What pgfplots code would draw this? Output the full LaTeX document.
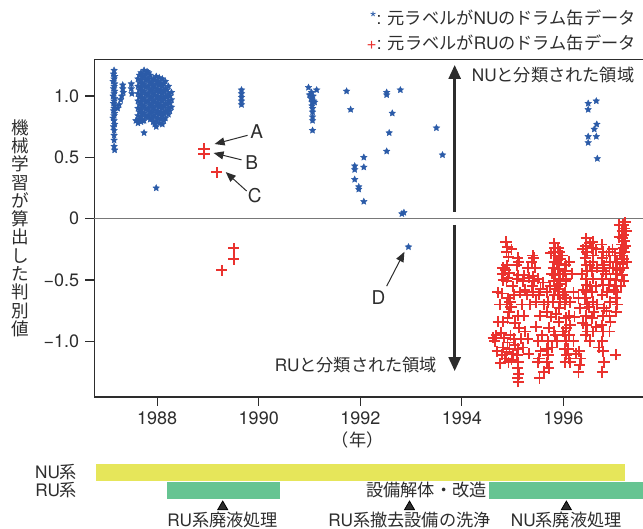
\documentclass[border=0pt]{standalone}
\usepackage{fontspec}
\setmainfont{TeX Gyre Heros}
\newfontfamily\jp{Noto Sans CJK JP}
\usepackage{pgfplots}
\pgfplotsset{compat=1.18}
\usetikzlibrary{arrows.meta}

\definecolor{nublue}{RGB}{43,91,168}
\definecolor{rured}{RGB}{234,50,46}
\definecolor{nuyellow}{RGB}{230,230,90}
\definecolor{rugreen}{RGB}{102,196,146}
\definecolor{txt}{RGB}{45,45,45}
\definecolor{zeroline}{RGB}{120,120,120}

% filled five-pointed star
\pgfdeclareplotmark{fstar}{%
  \pgfsetfillcolor{nublue}\pgfsetstrokecolor{nublue}\pgfsetlinewidth{0.2pt}%
  \pgfpathmoveto{\pgfpointpolar{90}{\pgfplotmarksize}}%
  \pgfpathlineto{\pgfpointpolar{126}{0.48\pgfplotmarksize}}%
  \pgfpathlineto{\pgfpointpolar{162}{\pgfplotmarksize}}%
  \pgfpathlineto{\pgfpointpolar{198}{0.48\pgfplotmarksize}}%
  \pgfpathlineto{\pgfpointpolar{234}{\pgfplotmarksize}}%
  \pgfpathlineto{\pgfpointpolar{270}{0.48\pgfplotmarksize}}%
  \pgfpathlineto{\pgfpointpolar{306}{\pgfplotmarksize}}%
  \pgfpathlineto{\pgfpointpolar{342}{0.48\pgfplotmarksize}}%
  \pgfpathlineto{\pgfpointpolar{18}{\pgfplotmarksize}}%
  \pgfpathlineto{\pgfpointpolar{54}{0.48\pgfplotmarksize}}%
  \pgfpathclose
  \pgfusepathqfillstroke}

% red plus with its colour set inside the mark
\pgfdeclareplotmark{rplus}{%
  \pgfsetstrokecolor{rured}\pgfsetlinewidth{0.95pt}%
  \pgfpathmoveto{\pgfqpoint{-\pgfplotmarksize}{0pt}}%
  \pgfpathlineto{\pgfqpoint{\pgfplotmarksize}{0pt}}%
  \pgfpathmoveto{\pgfqpoint{0pt}{-\pgfplotmarksize}}%
  \pgfpathlineto{\pgfqpoint{0pt}{\pgfplotmarksize}}%
  \pgfusepathqstroke}

\begin{document}
\fontsize{8.6}{10}\selectfont
\begin{tikzpicture}[font=\fontsize{8.6}{10}\selectfont, text=txt]
\begin{axis}[
    name=ax,
    scale only axis,
    width=274.35pt, height=168.85pt,
    xmin=1986.76, xmax=1997.57,
    ymin=-1.454, ymax=1.30,
    axis x line=box, axis y line=left,
    axis line style={-, draw=txt, line width=0.6pt},
    tick pos=left, tick align=outside,
    major tick length=4.5pt,
    tick style={draw=txt, line width=0.6pt},
    xtick={1988,1990,1992,1994,1996},
    xticklabels={1988,1990,1992,1994,1996},
    ytick={-1,-0.5,0,0.5,1},
    yticklabels={−1.0,−0.5,0,0.5,1.0},
    ticklabel style={font=\fontsize{9}{11}\selectfont, text=txt},
    clip=false,
]
% zero line
\addplot[draw=zeroline, line width=0.7pt] coordinates {(1986.76,0) (1997.57,0)};

% drums originally labelled NU
\addplot[only marks, color=nublue, mark=fstar, mark size=1.7pt] coordinates {
(1987.15,1.21) (1987.14,1.18) (1987.16,1.16) (1987.15,1.14) (1987.13,1.12) (1987.16,1.10)
(1987.15,1.08) (1987.14,1.06) (1987.16,1.04) (1987.15,1.02) (1987.13,1.00) (1987.16,0.98)
(1987.15,0.96) (1987.14,0.94) (1987.16,0.92) (1987.15,0.90) (1987.14,0.88) (1987.16,0.86)
(1987.15,0.84) (1987.13,0.82) (1987.15,0.80) (1987.16,0.77) (1987.14,0.75) (1987.15,0.72)
(1987.15,0.68) (1987.15,0.64) (1987.15,0.59) (1987.16,0.56)
(1987.22,0.90) (1987.25,0.93) (1987.28,0.97) (1987.30,1.00)
(1987.32,1.09) (1987.32,1.06) (1987.33,1.03)
(1987.49,1.10) (1987.49,1.06) (1987.50,1.02)
(1987.62,1.14) (1987.62,1.08) (1987.62,1.02) (1987.62,0.96) (1987.62,0.90) (1987.62,0.84) (1987.62,0.78)
(1987.65,1.17) (1987.65,1.11) (1987.65,1.05) (1987.65,0.99) (1987.65,0.93) (1987.65,0.87) (1987.65,0.81)
(1987.68,1.19) (1987.68,1.13) (1987.68,1.07) (1987.68,1.01) (1987.68,0.95) (1987.68,0.89) (1987.68,0.83) (1987.68,0.79)
(1987.71,1.16) (1987.71,1.10) (1987.71,1.04) (1987.71,0.98) (1987.71,0.92) (1987.71,0.86) (1987.71,0.80)
(1987.74,1.21) (1987.74,1.16) (1987.74,1.10) (1987.74,1.04) (1987.74,0.98) (1987.74,0.92) (1987.74,0.86) (1987.74,0.80) (1987.74,0.70)
(1987.77,1.18) (1987.77,1.13) (1987.77,1.07) (1987.77,1.01) (1987.77,0.95) (1987.77,0.89) (1987.77,0.83)
(1987.80,1.20) (1987.80,1.14) (1987.80,1.08) (1987.80,1.02) (1987.80,0.96) (1987.80,0.90) (1987.80,0.84)
(1987.83,1.19) (1987.83,1.14) (1987.83,1.08) (1987.83,1.02) (1987.83,0.96) (1987.83,0.90) (1987.83,0.84)
(1987.86,1.17) (1987.86,1.11) (1987.86,1.05) (1987.86,0.99) (1987.86,0.93) (1987.86,0.87) (1987.86,0.81)
(1987.89,1.11) (1987.89,1.05) (1987.89,0.99) (1987.89,0.93) (1987.89,0.87) (1987.89,0.82)
(1987.92,1.14) (1987.92,1.08) (1987.92,1.02) (1987.92,0.96) (1987.92,0.90) (1987.92,0.84) (1987.92,0.79)
(1987.95,1.13) (1987.95,1.07) (1987.95,1.01) (1987.95,0.95) (1987.95,0.89) (1987.95,0.83) (1987.95,0.77)
(1987.98,1.16) (1987.98,1.10) (1987.98,1.04) (1987.98,0.98) (1987.98,0.92) (1987.98,0.86) (1987.98,0.80) (1987.98,0.75)
(1988.01,1.12) (1988.01,1.06) (1988.01,1.00) (1988.01,0.94) (1988.01,0.88) (1988.01,0.82)
(1988.04,1.15) (1988.04,1.09) (1988.04,1.03) (1988.04,0.97) (1988.04,0.91) (1988.04,0.85) (1988.04,0.78)
(1988.07,1.11) (1988.07,1.05) (1988.07,0.99) (1988.07,0.93) (1988.07,0.87) (1988.07,0.81)
(1988.10,1.14) (1988.10,1.08) (1988.10,1.02) (1988.10,0.96) (1988.10,0.90) (1988.10,0.84) (1988.10,0.77)
(1988.13,1.10) (1988.13,1.04) (1988.13,0.98) (1988.13,0.92) (1988.13,0.86) (1988.13,0.80)
(1988.16,1.12) (1988.16,1.06) (1988.16,1.00) (1988.16,0.94) (1988.16,0.88) (1988.16,0.82)
(1988.19,1.05) (1988.19,0.99) (1988.19,0.93) (1988.19,0.87)
(1988.22,1.08) (1988.22,1.02) (1988.22,0.96) (1988.22,0.90) (1988.22,0.85)
(1988.25,1.00) (1988.25,0.94) (1988.25,0.88)
(1988.28,1.03) (1988.28,0.97) (1988.28,0.91)
(1987.58,0.80) (1987.98,0.25)
(1989.66,1.05) (1989.66,1.02) (1989.66,0.99) (1989.66,0.96) (1989.66,0.93)
(1990.98,1.07) (1991.14,1.05) (1991.04,1.03) (1991.00,1.01) (1991.07,1.00) (1991.03,0.98)
(1991.08,0.96) (1991.05,0.95) (1991.10,0.95) (1991.05,0.92) (1991.06,0.90) (1991.06,0.87)
(1991.06,0.83) (1991.06,0.80) (1991.06,0.72)
(1991.73,1.04) (1991.81,0.89)
(1992.52,1.03) (1992.52,1.01) (1992.79,1.05) (1992.63,0.86) (1992.57,0.70) (1992.52,0.55)
(1993.50,0.74) (1993.62,0.52)
(1992.07,0.50) (1991.89,0.43) (1991.89,0.40) (1992.07,0.42) (1991.89,0.32)
(1991.97,0.26) (1991.97,0.24) (1992.07,0.14) (1992.82,0.04) (1992.86,0.05)
(1992.95,-0.23)
(1996.49,0.94) (1996.49,0.89) (1996.65,0.96) (1996.66,0.77) (1996.61,0.73)
(1996.49,0.67) (1996.49,0.62) (1996.65,0.67) (1996.67,0.49)
};

% drums originally labelled RU
\addplot[only marks, color=rured, mark=rplus, mark size=2.8pt] coordinates {
(1988.92,0.57) (1988.92,0.53) (1989.17,0.38)
(1989.51,-0.24) (1989.51,-0.33) (1989.27,-0.42)
(1994.87,-0.19) (1994.90,-0.23) (1994.88,-0.27) (1994.92,-0.31) (1994.89,-0.38) (1994.86,-0.42)
(1994.93,-0.44) (1994.90,-0.48) (1994.88,-0.51) (1994.91,-0.65) (1994.95,-0.68) (1994.89,-0.70)
(1994.93,-0.76) (1994.90,-0.81)
(1994.81,-0.40) (1994.80,-0.45) (1994.82,-0.50) (1994.79,-0.61) (1994.81,-0.84)
(1994.71,-0.60) (1994.72,-0.84)
(1994.62,-0.97) (1994.65,-1.00) (1994.68,-0.95)
(1994.78,-0.93) (1994.84,-0.97) (1994.90,-1.01) (1994.96,-0.95) (1995.02,-0.98) (1994.82,-1.05)
(1994.88,-1.09) (1994.94,-1.06) (1995.00,-1.10) (1994.86,-1.14) (1994.92,-1.17) (1994.98,-1.15)
(1995.04,-1.03) (1994.80,-1.11)
(1995.10,-0.32) (1995.12,-0.35) (1995.08,-0.38) (1995.11,-0.46) (1995.09,-0.49) (1995.10,-0.79)
(1995.12,-0.89) (1995.10,-1.06) (1995.09,-1.11) (1995.11,-1.17) (1995.10,-1.22) (1995.12,-1.27)
(1995.10,-1.30) (1995.11,-1.33)
(1995.23,-0.46) (1995.21,-0.51) (1995.24,-0.58) (1995.22,-0.79) (1995.25,-0.92)
(1995.40,-0.30) (1995.42,-0.32) (1995.38,-0.35) (1995.40,-0.47) (1995.43,-0.51) (1995.39,-0.55) (1995.41,-0.60)
(1995.50,-0.49) (1995.55,-0.57) (1995.52,-0.62) (1995.54,-0.79) (1995.51,-1.00) (1995.55,-1.08)
(1995.52,-1.14) (1995.50,-1.17) (1995.53,-1.30)
(1995.67,-0.60) (1995.70,-0.68) (1995.68,-0.76) (1995.71,-0.89) (1995.69,-1.00) (1995.67,-1.06)
(1995.70,-1.11) (1995.68,-1.17) (1995.71,-1.22)
(1995.82,-0.20) (1995.83,-0.24) (1995.81,-0.27) (1995.84,-0.30) (1995.82,-0.35) (1995.80,-0.40)
(1995.83,-0.46) (1995.81,-0.51) (1995.84,-0.57) (1995.82,-0.62) (1995.80,-0.68) (1995.82,-0.92) (1995.84,-0.95)
(1995.90,-0.24) (1995.93,-0.27) (1995.91,-0.30) (1995.94,-0.33) (1995.92,-0.37) (1995.90,-0.41)
(1995.93,-0.45) (1995.91,-0.49) (1995.94,-0.53) (1995.92,-0.57) (1995.90,-0.62) (1995.93,-0.68)
(1995.92,-0.73) (1995.91,-0.84)
(1996.05,-0.38) (1996.04,-0.43) (1996.06,-0.49) (1996.05,-0.51) (1996.03,-0.60) (1996.06,-0.65)
(1996.04,-0.70) (1996.05,-0.81) (1996.06,-0.89) (1996.04,-0.95) (1996.05,-1.00) (1996.03,-1.06)
(1996.06,-1.11) (1996.04,-1.17)
(1996.12,-0.35) (1996.13,-0.68) (1996.11,-0.79) (1996.13,-0.87) (1996.12,-0.95) (1996.10,-1.06)
(1996.12,-1.14) (1996.14,-1.17)
(1996.30,-0.65) (1996.33,-0.73) (1996.31,-1.08) (1996.34,-1.14) (1996.32,-1.19) (1996.30,-1.25)
(1996.45,-0.16) (1996.44,-0.22) (1996.46,-0.27) (1996.43,-0.32) (1996.45,-0.38) (1996.47,-0.43)
(1996.44,-0.49) (1996.46,-0.54) (1996.45,-0.60) (1996.43,-0.65) (1996.46,-0.70) (1996.44,-0.79)
(1996.45,-0.87) (1996.47,-0.92) (1996.44,-0.95)
(1996.58,-0.19) (1996.57,-0.24) (1996.59,-0.30) (1996.58,-0.35) (1996.56,-0.43) (1996.59,-0.49)
(1996.57,-0.60) (1996.58,-0.68) (1996.60,-0.76) (1996.57,-0.81) (1996.58,-0.92)
(1996.76,-0.21) (1996.79,-0.27) (1996.77,-0.32) (1996.80,-0.38) (1996.78,-0.43) (1996.76,-0.49)
(1996.79,-0.54) (1996.77,-0.62) (1996.80,-0.73) (1996.78,-0.79) (1996.76,-0.87) (1996.79,-0.92)
(1996.77,-1.00) (1996.78,-1.08) (1996.80,-1.17) (1996.77,-1.25)
(1996.90,-0.27) (1996.92,-0.35) (1996.91,-0.40) (1996.93,-0.49) (1996.90,-0.54) (1996.92,-0.68)
(1996.91,-0.79) (1996.93,-0.84) (1996.91,-0.92)
(1997.02,-0.30) (1997.05,-0.35) (1997.03,-0.40) (1997.06,-0.45) (1997.04,-0.50) (1997.02,-0.55)
(1997.05,-0.60) (1997.03,-0.65) (1997.06,-0.70) (1997.04,-0.76) (1997.03,-1.11)
(1997.18,-0.05) (1997.20,-0.08) (1997.16,-0.10) (1997.19,-0.13) (1997.17,-0.16) (1997.21,-0.18)
(1997.15,-0.21) (1997.18,-0.24) (1997.20,-0.27) (1997.16,-0.30) (1997.19,-0.33) (1997.17,-0.37)
(1997.18,-0.40) (1997.16,-0.46) (1997.19,-0.51)
(1994.98,-0.25) (1995.00,-0.55) (1995.02,-0.62) (1994.97,-0.72) (1995.05,-0.85) (1994.75,-0.70)
(1994.70,-1.08) (1994.76,-1.18) (1995.15,-0.60) (1995.18,-0.70) (1995.16,-0.98) (1995.20,-1.05)
(1995.30,-0.40) (1995.33,-0.48) (1995.28,-0.62) (1995.35,-0.70) (1995.30,-0.98) (1995.32,-1.10)
(1995.45,-0.40) (1995.47,-0.68) (1995.46,-0.88) (1995.60,-0.52) (1995.62,-0.70) (1995.58,-0.95)
(1995.62,-1.25) (1995.75,-0.28) (1995.77,-0.45) (1995.74,-0.55) (1995.76,-0.80) (1995.78,-1.05)
(1995.87,-0.35) (1995.88,-0.55) (1995.86,-0.78) (1995.88,-1.00) (1995.98,-0.30) (1995.99,-0.45)
(1996.00,-0.62) (1996.00,-0.92) (1996.18,-0.45) (1996.20,-0.60) (1996.22,-0.80) (1996.20,-1.00)
(1996.25,-1.10) (1996.38,-0.25) (1996.37,-0.45) (1996.39,-0.58) (1996.38,-0.85) (1996.52,-0.20)
(1996.52,-0.38) (1996.53,-0.55) (1996.51,-0.72) (1996.52,-1.00) (1996.65,-0.25) (1996.66,-0.40)
(1996.64,-0.55) (1996.67,-0.70) (1996.65,-0.88) (1996.70,-1.05) (1996.85,-0.30) (1996.84,-0.45)
(1996.86,-0.60) (1996.85,-0.75) (1996.97,-0.25) (1996.98,-0.40) (1996.99,-0.58) (1997.10,-0.15)
(1997.12,-0.28) (1997.11,-0.42) (1997.13,-0.55) (1997.24,-0.10) (1997.23,-0.22) (1997.25,-0.35)
(1997.10,-0.05) (1997.22,-0.03)
};

% timeline bars
\addplot[fill=nuyellow, draw=none] coordinates {(1986.79,-2.001) (1997.22,-2.001) (1997.22,-2.139) (1986.79,-2.139)} -- cycle;
\addplot[fill=rugreen, draw=none] coordinates {(1988.19,-2.147) (1990.41,-2.147) (1990.41,-2.286) (1988.19,-2.286)} -- cycle;
\addplot[fill=rugreen, draw=none] coordinates {(1994.53,-2.147) (1997.57,-2.147) (1997.57,-2.286) (1994.53,-2.286)} -- cycle;
\addplot[only marks, mark=triangle*, mark size=2.9pt, mark options={fill=txt, draw=none}] coordinates {(1989.29,-2.35) (1992.97,-2.35) (1996.06,-2.35)};

% region arrows
\draw[txt, line width=1.3pt, -{Triangle[width=6pt,length=7pt]}] (axis cs:1993.86,0.057) -- (axis cs:1993.86,1.254);
\draw[txt, line width=1.3pt, -{Triangle[width=6pt,length=7pt]}] (axis cs:1993.86,-0.05) -- (axis cs:1993.86,-1.243);
\node[anchor=west, inner sep=0pt] at (axis cs:1994.19,1.17) {NU{\jp と分類された領域}};
\node[anchor=east, inner sep=0pt] at (axis cs:1993.52,-1.19) {RU{\jp と分類された領域}};

% point labels
\draw[txt, line width=0.5pt, -{Triangle[width=4pt,length=5pt]}] (axis cs:1989.78,0.68) -- (axis cs:1989.13,0.609);
\draw[txt, line width=0.5pt, -{Triangle[width=4pt,length=5pt]}] (axis cs:1989.66,0.48) -- (axis cs:1989.11,0.536);
\draw[txt, line width=0.5pt, -{Triangle[width=4pt,length=5pt]}] (axis cs:1989.76,0.226) -- (axis cs:1989.35,0.38);
\draw[txt, line width=0.5pt, -{Triangle[width=4pt,length=5pt]}] (axis cs:1992.52,-0.55) -- (axis cs:1992.87,-0.27);
\node[inner sep=0pt, font=\fontsize{9.5}{11}\selectfont] at (axis cs:1989.96,0.707) {A};
\node[inner sep=0pt, font=\fontsize{9.5}{11}\selectfont] at (axis cs:1989.86,0.455) {B};
\node[inner sep=0pt, font=\fontsize{9.5}{11}\selectfont] at (axis cs:1989.92,0.185) {C};
\node[inner sep=0pt, font=\fontsize{9.5}{11}\selectfont] at (axis cs:1992.36,-0.64) {D};

% legend text
\node[anchor=east, inner sep=0pt] at ([xshift=-3.5pt,yshift=20.6pt]rel axis cs:1,1)
  {\textcolor{nublue}{*}: {\jp 元ラベルが}NU{\jp のドラム缶データ}};
\node[anchor=east, inner sep=0pt] at ([xshift=-3.5pt,yshift=8.1pt]rel axis cs:1,1)
  {\textcolor{rured}{+}: {\jp 元ラベルが}RU{\jp のドラム缶データ}};

% axis labels
\node[align=center, font=\jp\fontsize{8.8}{9.15}\selectfont] at ([xshift=-37.15pt]rel axis cs:0,0.5)
  {機\\械\\学\\習\\が\\算\\出\\し\\た\\判\\別\\値};
\node[font=\jp\fontsize{8.6}{10}\selectfont] at ([yshift=-21.5pt]axis cs:1991.95,-1.454) {（年）};

% timeline labels
\node[anchor=east, inner sep=0pt] at (axis cs:1986.43,-2.067) {NU{\jp 系}};
\node[anchor=east, inner sep=0pt] at (axis cs:1986.43,-2.213) {RU{\jp 系}};
\node[anchor=east, inner sep=0pt] at (axis cs:1994.50,-2.213) {{\jp 設備解体・改造}};
\node[inner sep=0pt] at (axis cs:1989.29,-2.46) {RU{\jp 系廃液処理}};
\node[inner sep=0pt] at (axis cs:1992.97,-2.46) {RU{\jp 系撤去設備の洗浄}};
\node[inner sep=0pt] at (axis cs:1996.06,-2.46) {NU{\jp 系廃液処理}};
\end{axis}
\pgfresetboundingbox
\path[use as bounding box] ([xshift=-47.15pt,yshift=-66pt]ax.south west) rectangle ([yshift=29.65pt]ax.north east);
\end{tikzpicture}
\end{document}
